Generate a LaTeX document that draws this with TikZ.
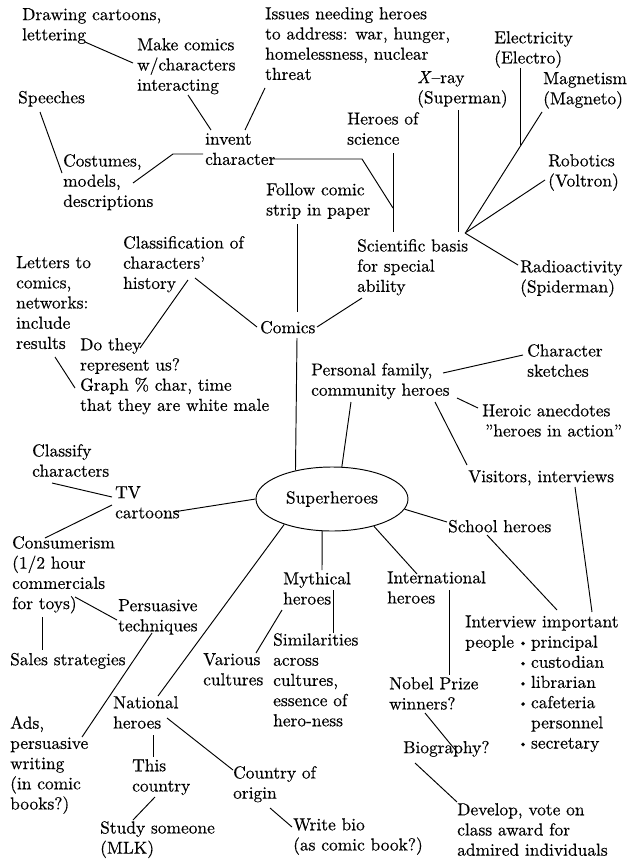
\documentclass[tikz,border=0pt]{standalone}
\usepackage{fontspec}
\setmainfont{lmroman10-regular.otf}[ItalicFont=lmroman10-italic.otf, FakeBold=0.35]
\usetikzlibrary{shapes.geometric}
\newcommand\dfont{\fontsize{17.4}{20.2}\selectfont}
\newcommand\sbul{\makebox[16pt][c]{\raisebox{1.2pt}{\fontsize{12.5}{12.5}\selectfont\textbullet}}}
\tikzset{
  lbl/.style={anchor=north west, inner sep=0pt, align=left, font=\dfont,
    execute at begin node={\rule{0pt}{14pt}}},
  conn/.style={draw, line width=0.95pt},
  hub/.style={ellipse, draw, line width=0.95pt, inner sep=0pt,
    minimum width=152pt, minimum height=64pt, font=\dfont},
}
\newcommand\mapnode[4]{\node[lbl] (#1) at (#2,#3-14) {#4};}
\begin{document}
\begin{tikzpicture}[x=1pt,y=-1pt]
\useasboundingbox[fill=white] (0,0) rectangle (629,867);
% ---- text nodes
\mapnode{drw}{22}{22}{Drawing cartoons,\\lettering}
\mapnode{mak}{137}{52}{Make comics\\w/characters\\interacting}
\mapnode{iss}{265}{21}{Issues needing heroes\\to address: war, hunger,\\homelessness, nuclear\\threat}
\mapnode{spe}{18}{103}{Speeches}
\mapnode{cos}{63}{168}{Costumes,\\models,\\descriptions}
\mapnode{inv}{205}{147}{invent\\character}
\mapnode{hos}{347}{126}{Heroes of\\science}
\mapnode{fol}{266}{197}{Follow comic\\strip in paper}
\mapnode{xry}{417}{85}{\textit{X}--ray\\(Superman)}
\mapnode{ele}{494}{45}{Electricity\\(Electro)}
\mapnode{mag}{543}{86}{Magnetism\\(Magneto)}
\mapnode{rob}{548}{168}{Robotics\\(Voltron)}
\mapnode{sci}{357}{253}{Scientific basis\\for special\\ability}
\mapnode{rad}{520}{274}{Radioactivity\\(Spiderman)}
\mapnode{cla}{123}{250}{Classification of\\characters'\\history}
\mapnode{let}{16}{270}{Letters to\\comics,\\networks:\\include\\results}
\mapnode{com}{260}{333}{Comics}
\mapnode{dot}{80}{352}{Do they\\represent us?\\Graph \% char, time\\that they are white male}
\mapnode{per}{311}{377}{Personal family,\\community heroes}
\mapnode{chs}{527}{358}{Character\\sketches}
\mapnode{her}{482}{418}{Heroic anecdotes\\\,''heroes in action''}
\mapnode{vis}{468}{482}{Visitors, interviews}
\mapnode{cls}{32}{458}{Classify\\characters}
\mapnode{tv}{115}{500}{TV\\cartoons}
\node[hub] (sup) at (332,499) {Superheroes};
\mapnode{sch}{448}{532}{School heroes}
\mapnode{con}{12}{550}{Consumerism\\(1/2 hour\\commercials\\for toys)}
\mapnode{myt}{283}{586}{Mythical\\heroes}
\mapnode{int}{387}{585}{International\\heroes}
\mapnode{psu}{118}{613}{Persuasive\\techniques}
\node[lbl] (ivw) at (465,627-14) {\begin{tabular}[t]{@{}l@{\hspace{1pt}}l@{}}
  \multicolumn{2}{@{}l@{}}{Interview important}\\
  people & \sbul principal\\
         & \sbul custodian\\
         & \sbul librarian\\
         & \sbul cafeteria\\
         & \hspace{16pt}personnel\\
         & \sbul secretary
  \end{tabular}};
\mapnode{sal}{10}{665}{Sales strategies}
\mapnode{var}{203}{667}{Various\\cultures}
\mapnode{sim}{273}{647}{Similarities\\across\\cultures,\\essence of\\hero-ness}
\mapnode{nob}{389}{691}{Nobel Prize\\winners?}
\mapnode{nat}{113}{710}{National\\heroes}
\mapnode{ads}{10}{730}{Ads,\\persuasive\\writing\\(in comic\\books?)}
\mapnode{bio}{403}{753}{Biography?}
\mapnode{thi}{132}{773}{This\\country}
\mapnode{coo}{233}{780}{Country of\\origin}
\mapnode{dev}{457}{817}{Develop, vote on\\class award for\\admired individuals}
\mapnode{stu}{100}{835}{Study someone\\(MLK)}
\mapnode{wri}{293}{832}{Write bio\\(as comic book?)}
% ---- connectors
\path[conn] (85,42) -- (133,63);            % drw - mak
\path[conn] (188,95) -- (211,130);          % mak - inv
\path[conn] (265,88) -- (245,130);          % iss - inv
\path[conn] (40,112) -- (62,173);           % spe - cos
\path[conn] (133,183) -- (173,154) -- (203,154); % cos - inv
\path[conn] (270,159) -- (362,159) -- (393,208); % inv - sci
\path[conn] (393,153) -- (393,232);         % hos - sci
\path[conn] (297,224) -- (297,312);         % fol - com
\path[conn] (297,338) -- (sup.142);         % com - sup
\path[conn] (195,278) -- (257,327);         % cla - com
\path[conn] (317,327) -- (362,298);         % com - sci
\path[conn] (188,280) -- (140,348);         % cla - dot
\path[conn] (55,357) -- (75,388);           % let - dot
\path[conn] (458,110) -- (458,232);         % xry - sci
\path[conn] (520,68) -- (520,145);          % ele - mag line
\path[conn] (542,112) -- (466,232);         % mag - sci
\path[conn] (545,180) -- (465,233);         % rob - sci
\path[conn] (465,233) -- (518,265);         % sci - rad
\path[conn] (351,402) -- (sup.73);          % per - sup
\path[conn] (443,373) -- (523,355);         % per - chs
\path[conn] (457,398) -- (478,408);         % per - her
\path[conn] (435,402) -- (467,465);         % per - vis
\path[conn] (575,487) -- (592,612);         % vis - ivw
\path[conn] (sup.-8) -- (447,522);          % sup - sch
\path[conn] (487,535) -- (557,610);         % sch - ivw
\path[conn] (sup.-33) -- (417,574);         % sup - int
\path[conn] (449,590) -- (449,675);         % int - nob
\path[conn] (sup.-107) -- (322,570);        % sup - myt
\path[conn] (282,610) -- (256,653);         % myt - var
\path[conn] (333,590) -- (333,633);         % myt - sim
\path[conn] (425,713) -- (457,752);         % nob - bio
\path[conn] (415,763) -- (457,802);         % bio - dev
\path[conn] (52,483) -- (112,497);          % cls - tv
\path[conn] (112,505) -- (45,538);          % tv - con
\path[conn] (173,512) -- (sup.west);        % tv - sup
\path[conn] (75,597) -- (117,620);          % con - psu
\path[conn] (42,617) -- (42,650);           % con - sal
\path[conn] (sup.-152) -- (158,696);        % sup - nat
\path[conn] (152,633) -- (82,737);          % psu - ads
\path[conn] (153,735) -- (153,757);         % nat - thi
\path[conn] (167,718) -- (233,770);         % nat - coo
\path[conn] (155,797) -- (133,820);         % thi - stu
\path[conn] (270,808) -- (292,827);         % coo - wri
\end{tikzpicture}
\end{document}
